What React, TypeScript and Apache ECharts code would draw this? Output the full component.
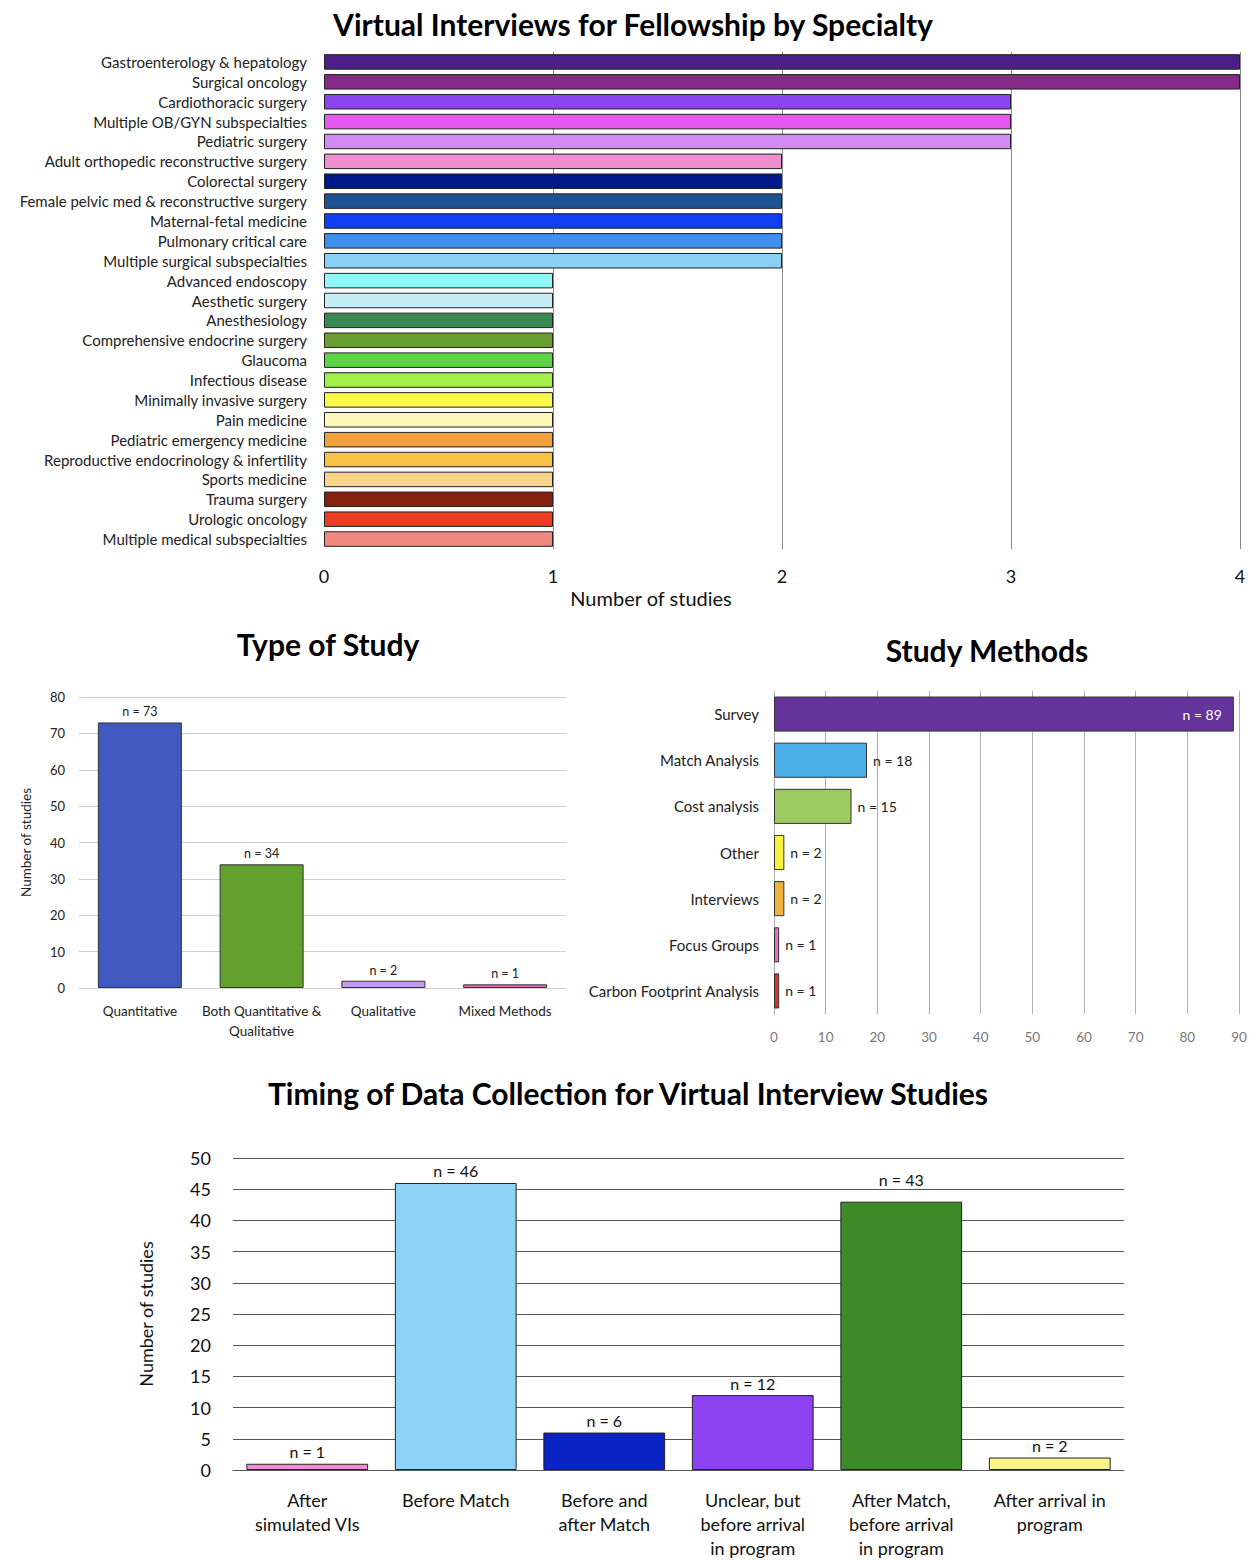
import React, { useEffect, useRef } from "react";
import * as echarts from "echarts";

const specialties = [
  "Gastroenterology & hepatology",
  "Surgical oncology",
  "Cardiothoracic surgery",
  "Multiple OB/GYN subspecialties",
  "Pediatric surgery",
  "Adult orthopedic reconstructive surgery",
  "Colorectal surgery",
  "Female pelvic med & reconstructive surgery",
  "Maternal-fetal medicine",
  "Pulmonary critical care",
  "Multiple surgical subspecialties",
  "Advanced endoscopy",
  "Aesthetic surgery",
  "Anesthesiology",
  "Comprehensive endocrine surgery",
  "Glaucoma",
  "Infectious disease",
  "Minimally invasive surgery",
  "Pain medicine",
  "Pediatric emergency medicine",
  "Reproductive endocrinology & infertility",
  "Sports medicine",
  "Trauma surgery",
  "Urologic oncology",
  "Multiple medical subspecialties",
];
const specialtyValues = [4, 4, 3, 3, 3, 2, 2, 2, 2, 2, 2, 1, 1, 1, 1, 1, 1, 1, 1, 1, 1, 1, 1, 1, 1];
const specialtyColors = [
  "#4B1F87", "#862A8A", "#8B45F0", "#E857F0", "#D08BF5", "#EE8ECF", "#00188A", "#1F5494",
  "#0F3FF0", "#3F8FEF", "#88D0F5", "#8EF8F8", "#C5EDF5", "#378A52", "#6B9E32", "#5ED444",
  "#A3F04A", "#FAF84A", "#FCF7BA", "#F0A03C", "#F5C244", "#F8D58A", "#85200F", "#EA3E24",
  "#F08880",
];
const specialtyTicks = [0, 1, 2, 3, 4];

const studyTypes = ["Quantitative", "Both Quantitative &\nQualitative", "Qualitative", "Mixed Methods"];
const studyTypeValues = [73, 34, 2, 1];
const studyTypeColors = ["#4159BE", "#62A12E", "#C49AF0", "#E66FB8"];

const methods = ["Survey", "Match Analysis", "Cost analysis", "Other", "Interviews", "Focus Groups", "Carbon Footprint Analysis"];
const methodValues = [89, 18, 15, 2, 2, 1, 1];
const methodColors = ["#65349A", "#4BAEE8", "#9DCB62", "#F7F23E", "#EDB33A", "#E66FB8", "#E0302A"];

const timings = [
  "After\nsimulated VIs",
  "Before Match",
  "Before and\nafter Match",
  "Unclear, but\nbefore arrival\nin program",
  "After Match,\nbefore arrival\nin program",
  "After arrival in\nprogram",
];
const timingValues = [1, 46, 6, 12, 43, 2];
const timingColors = ["#F08CD8", "#8DD3F8", "#0A23C4", "#8C42F0", "#3F8A28", "#FAF58A"];

const FONT = "Lato, 'Open Sans', sans-serif";

export default function App() {
  const ref = useRef<HTMLDivElement>(null);
  useEffect(() => {
    if (!ref.current) return;
    const chart = echarts.init(ref.current, null, { renderer: "svg" });
    const titleStyle = { fontFamily: FONT, fontWeight: "bold" as const, fontSize: 30, color: "#000" };
    chart.setOption({
      animation: false,
      backgroundColor: "#fff",
      textStyle: { fontFamily: FONT },
      title: [
        { text: "Virtual Interviews for Fellowship by Specialty", left: 628, top: 4, textAlign: "center", textStyle: titleStyle },
        { text: "Type of Study", left: 323, top: 624, textAlign: "center", textStyle: titleStyle },
        { text: "Study Methods", left: 982, top: 630, textAlign: "center", textStyle: titleStyle },
        { text: "Timing of Data Collection for Virtual Interview Studies", left: 623, top: 1073, textAlign: "center", textStyle: titleStyle },
      ],
      graphic: [
        {
          type: "text", x: 651, y: 598,
          style: { text: "Number of studies", fontSize: 20, fill: "#111", fontFamily: FONT, align: "center", verticalAlign: "middle" },
        },
      ],
      grid: [
        { left: 324, top: 52, width: 916, height: 497 },
        { left: 79, top: 697, width: 487, height: 291 },
        { left: 774, top: 691, width: 465, height: 323 },
        { left: 233, top: 1158, width: 891, height: 316 },
      ],
      xAxis: [
        {
          gridIndex: 0, type: "value", min: specialtyTicks[0], max: specialtyTicks[specialtyTicks.length - 1], interval: 1,
          axisLine: { show: false }, axisTick: { show: false },
          axisLabel: { fontSize: 18, color: "#111", margin: 18 },
          splitLine: { show: true, showMinLine: false, lineStyle: { color: "#8a8a8a", width: 1 } },
        },
        {
          gridIndex: 1, type: "category", data: studyTypes,
          axisLine: { lineStyle: { color: "#d0d0d0" } }, axisTick: { show: false },
          axisLabel: { fontSize: 13.5, color: "#222", margin: 13, lineHeight: 20, interval: 0 },
        },
        {
          gridIndex: 2, type: "value", min: 0, max: 90, interval: 10,
          axisLine: { show: false }, axisTick: { show: false },
          axisLabel: { fontSize: 13.5, color: "#777", margin: 16 },
          splitLine: { show: true, lineStyle: { color: "#b0b0b0", width: 1 } },
        },
        {
          gridIndex: 3, type: "category", data: timings,
          axisLine: { lineStyle: { color: "#555" } }, axisTick: { show: false },
          axisLabel: { fontSize: 18, color: "#111", margin: 18, lineHeight: 24, interval: 0 },
        },
      ],
      yAxis: [
        {
          gridIndex: 0, type: "category", data: specialties, inverse: true,
          axisLine: { show: false }, axisTick: { show: false },
          axisLabel: { fontSize: 15, color: "#222", margin: 17, interval: 0 },
        },
        {
          gridIndex: 1, type: "value", min: 0, max: 80, interval: 10,
          axisLine: { show: false }, axisTick: { show: false },
          axisLabel: { fontSize: 13, color: "#222", margin: 14 },
          splitLine: { lineStyle: { color: "#d0d0d0" } },
          name: "Number of studies", nameLocation: "middle", nameGap: 46, nameRotate: 90,
          nameTextStyle: { fontSize: 13.5, color: "#222" },
        },
        {
          gridIndex: 2, type: "category", data: methods, inverse: true,
          axisLine: { show: true, lineStyle: { color: "#b0b0b0" } }, axisTick: { show: false },
          axisLabel: { fontSize: 15, color: "#222", margin: 15, interval: 0 },
        },
        {
          gridIndex: 3, type: "value", min: 0, max: 50, interval: 5,
          axisLine: { show: false }, axisTick: { show: false },
          axisLabel: { fontSize: 18, color: "#111", margin: 22 },
          splitLine: { lineStyle: { color: "#555" } },
          name: "Number of studies", nameLocation: "middle", nameGap: 78, nameRotate: 90,
          nameTextStyle: { fontSize: 18, color: "#111" },
        },
      ],
      series: [
        {
          type: "bar", xAxisIndex: 0, yAxisIndex: 0, barCategoryGap: "22%",
          data: specialtyValues.map((v, i) => ({
            value: v,
            itemStyle: { color: specialtyColors[i], borderColor: "#222", borderWidth: 1 },
          })),
        },
        {
          type: "bar", xAxisIndex: 1, yAxisIndex: 1, barCategoryGap: "31%",
          label: { show: true, position: "top", formatter: "n = {c}", fontSize: 12.5, color: "#222", distance: 4 },
          data: studyTypeValues.map((v, i) => ({
            value: v,
            itemStyle: { color: studyTypeColors[i], borderColor: "#333", borderWidth: 1 },
          })),
        },
        {
          type: "bar", xAxisIndex: 2, yAxisIndex: 2, barCategoryGap: "24%",
          label: { show: true, position: "right", formatter: "n = {c}", fontSize: 14, color: "#222", distance: 6 },
          data: methodValues.map((v, i) => ({
            value: v,
            itemStyle: { color: methodColors[i], borderColor: "#333", borderWidth: 1 },
            label: i === 0 ? { position: "insideRight", color: "#fff", distance: 12 } : undefined,
          })),
        },
        {
          type: "bar", xAxisIndex: 3, yAxisIndex: 3, barCategoryGap: "18%",
          label: { show: true, position: "top", formatter: "n = {c}", fontSize: 16, color: "#111", distance: 4 },
          data: timingValues.map((v, i) => ({
            value: v,
            itemStyle: { color: timingColors[i], borderColor: "#222", borderWidth: 1 },
            label: v === 43 ? { distance: 14 } : undefined,
          })),
        },
      ],
    });
    return () => chart.dispose();
  }, []);
  return (
    <div
      ref={ref}
      style={{ position: "absolute", left: 0, top: 0, width: 1255, height: 1560, background: "#fff" }}
    />
  );
}
